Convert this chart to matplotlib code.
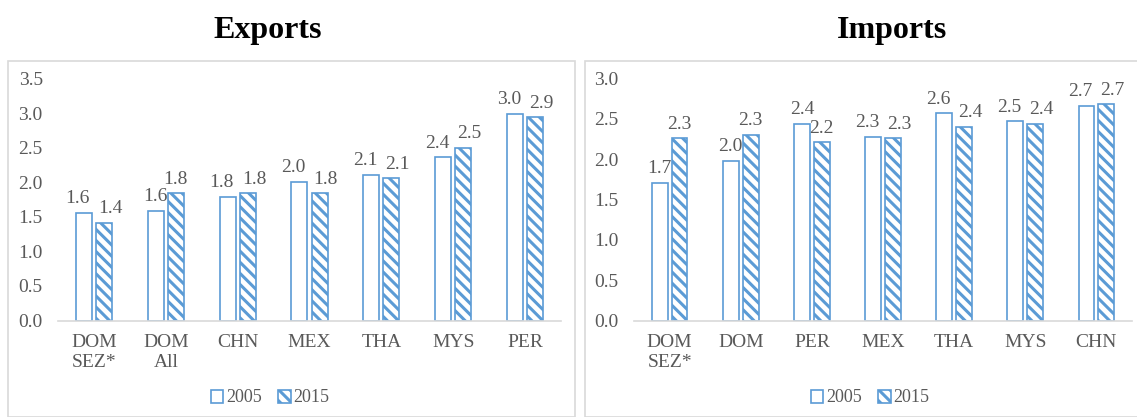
import matplotlib.pyplot as plt
import numpy as np
from matplotlib.patches import Rectangle

plt.rcParams['font.family'] = ['Liberation Serif', 'DejaVu Serif']
plt.rcParams['hatch.linewidth'] = 2.2

BLUE = '#5B9BD5'
GREY = '#595959'
LINE = '#D9D9D9'

# data
exp_cats = ['DOM\nSEZ*', 'DOM\nAll', 'CHN', 'MEX', 'THA', 'MYS', 'PER']
exp_2005 = [1.56, 1.59, 1.79, 2.01, 2.11, 2.36, 2.99]
exp_2015 = [1.41, 1.84, 1.84, 1.84, 2.06, 2.50, 2.94]

imp_cats = ['DOM\nSEZ*', 'DOM', 'PER', 'MEX', 'THA', 'MYS', 'CHN']
imp_2005 = [1.71, 1.98, 2.44, 2.28, 2.57, 2.47, 2.66]
imp_2015 = [2.26, 2.30, 2.21, 2.26, 2.40, 2.44, 2.68]

W, H = 1137, 417


def panel(ax, cats, v05, v15, ymax, legend_x):
    x = np.arange(len(cats))
    w = 0.223
    gap = 0.028
    b1 = ax.bar(x - w / 2 - gap, v05, w, color='white', edgecolor=BLUE,
                linewidth=1.2, label='2005')
    b2 = ax.bar(x + w / 2 + gap, v15, w, color='white', edgecolor=BLUE,
                linewidth=1.2, hatch='\\\\\\', label='2015')
    # labels nudged apart when the two bars are close in height
    for i in range(len(cats)):
        close = abs(v05[i] - v15[i]) < 0.2
        dx = 4.5 if close else 0
        for r, v, sign in ((b1[i], v05[i], -1), (b2[i], v15[i], 1)):
            ax.annotate('{:.1f}'.format(v), (r.get_x() + r.get_width() / 2, v),
                        xytext=(sign * dx, 4), textcoords='offset points',
                        ha='center', va='bottom', fontsize=14, color=GREY)
    ax.set_xlim(-0.5, len(cats) - 0.5)
    ax.set_ylim(0, ymax)
    ax.set_yticks(np.arange(0, ymax + 0.01, 0.5))
    ax.yaxis.set_major_formatter(plt.FormatStrFormatter('%.1f'))
    ax.set_xticks(x)
    ax.set_xticklabels(cats)
    for s in ['top', 'right', 'left']:
        ax.spines[s].set_visible(False)
    ax.spines['bottom'].set_color(LINE)
    ax.spines['bottom'].set_linewidth(1.2)
    ax.tick_params(axis='both', length=0, labelsize=14, colors=GREY)
    ax.tick_params(axis='y', pad=11)
    ax.tick_params(axis='x', pad=10)
    ax.legend(loc='center', bbox_to_anchor=(legend_x / W, 1 - 398 / H),
              bbox_transform=fig.transFigure, ncol=2,
              frameon=False, fontsize=13, handlelength=0.7, handleheight=0.7,
              handletextpad=0.15, columnspacing=0.9, labelcolor=GREY)


fig = plt.figure(figsize=(11.37, 4.17), dpi=100)
ax1 = fig.add_axes([58 / W, 1 - 320.5 / H, 503 / W, 242 / H])
ax2 = fig.add_axes([634 / W, 1 - 320.5 / H, 498 / W, 242 / H])

panel(ax1, exp_cats, exp_2005, exp_2015, 3.5, 270)
panel(ax2, imp_cats, imp_2005, imp_2015, 3.0, 870)

fig.text(268 / W, 1 - 38 / H, 'Exports', ha='center', va='baseline',
         fontsize=23, fontweight='bold')
fig.text(892 / W, 1 - 38 / H, 'Imports', ha='center', va='baseline',
         fontsize=23, fontweight='bold')

fig.patches.append(Rectangle((8 / W, 0), 567 / W, 1 - 61 / H, transform=fig.transFigure,
                             fill=False, edgecolor=LINE, linewidth=1.2))
fig.patches.append(Rectangle((585 / W, 0), 560 / W, 1 - 61 / H, transform=fig.transFigure,
                             fill=False, edgecolor=LINE, linewidth=1.2))

fig.savefig('out.png', dpi=100)
